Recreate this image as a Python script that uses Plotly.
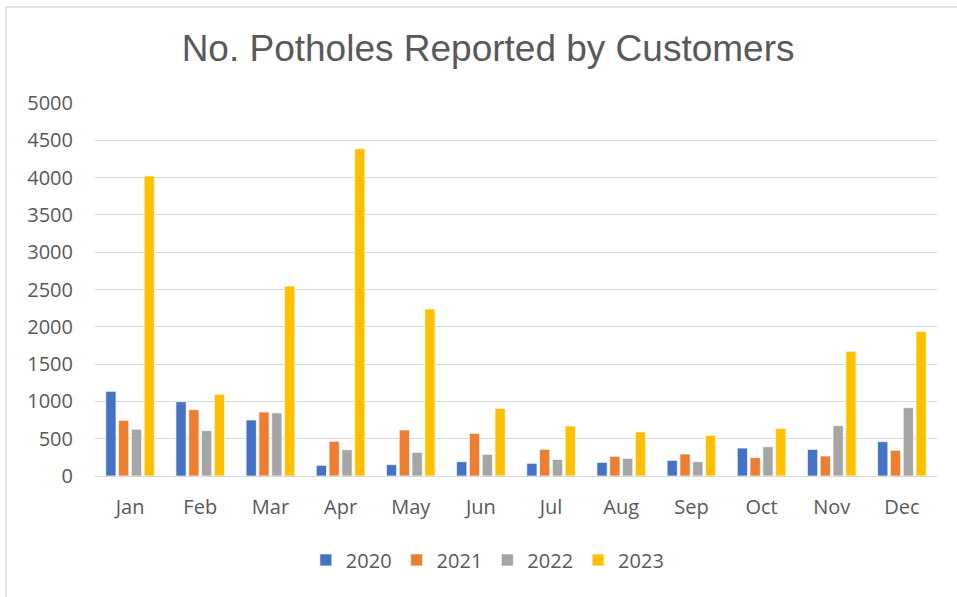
import plotly.graph_objects as go

months = ["Jan", "Feb", "Mar", "Apr", "May", "Jun", "Jul", "Aug", "Sep", "Oct", "Nov", "Dec"]
y2020 = [1135, 996, 751, 143, 152, 192, 170, 183, 210, 375, 357, 460]
y2021 = [746, 889, 858, 465, 617, 572, 357, 264, 295, 246, 268, 344]
y2022 = [626, 608, 845, 353, 317, 290, 223, 237, 192, 393, 675, 916]
y2023 = [4021, 1095, 2547, 4388, 2239, 907, 670, 590, 545, 639, 1671, 1939]
y_ticks = [0, 500, 1000, 1500, 2000, 2500, 3000, 3500, 4000, 4500, 5000]

series = [("2020", y2020, "#4472C4"), ("2021", y2021, "#ED7D31"),
          ("2022", y2022, "#A5A5A5"), ("2023", y2023, "#FFC000")]

fig = go.Figure()
for name, vals, col in series:
    fig.add_trace(go.Bar(x=months, y=vals, name=name,
                         marker=dict(color=col, line=dict(color="white", width=0.7))))

tick_font = "Open Sans, Liberation Sans, Arial, sans-serif"
fig.update_layout(
    width=957, height=597,
    margin=dict(l=95, r=20, t=103, b=121),
    paper_bgcolor="white", plot_bgcolor="white",
    barmode="group", bargap=0.27, bargroupgap=0.2,
    title=dict(text="No. Potholes Reported by Customers", x=0.51, xanchor="center",
               y=1 - 48 / 597, yanchor="middle",
               font=dict(family="Liberation Sans, Arial, sans-serif", size=37, color="#595959")),
    font=dict(family=tick_font, size=20, color="#595959"),
    legend=dict(orientation="h", x=0.466, xanchor="center", y=-0.225, yanchor="middle",
                font=dict(size=20, color="#595959"), itemwidth=30, traceorder="normal"),
    xaxis=dict(showgrid=False, showline=True, linecolor="#d9d9d9", linewidth=1,
               ticks="", tickfont=dict(size=20, color="#595959"), ticklabelstandoff=13),
    yaxis=dict(range=[0, 5000], tickvals=y_ticks, showgrid=True, gridcolor="#d9d9d9",
               gridwidth=1, zeroline=False, showline=False, ticks="",
               tickfont=dict(size=20, color="#595959"), ticklabelstandoff=21),
    shapes=[dict(type="rect", xref="paper", yref="paper",
                 x0=-0.1057, x1=1.2, y0=-0.5, y1=(476 - 7) / 373,
                 line=dict(color="#d9d9d9", width=1.5), fillcolor="rgba(0,0,0,0)", layer="below")],
)
fig.write_html("out.html", config={"displayModeBar": False},
               post_script="document.body.style.margin='0';")
